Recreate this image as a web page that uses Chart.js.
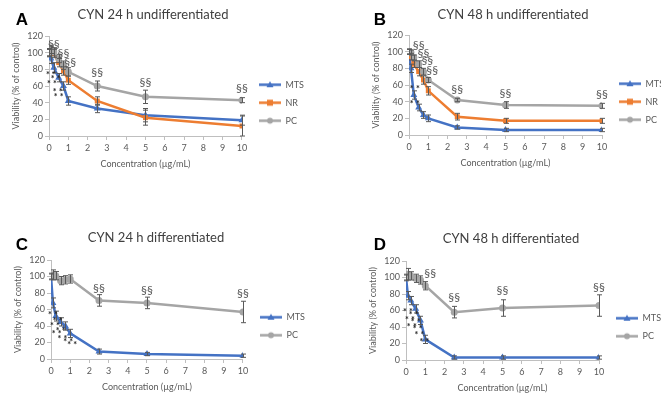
<!DOCTYPE html>
<html>
<head>
<meta charset="utf-8">
<script src="https://cdn.jsdelivr.net/npm/chart.js@4.4.1/dist/chart.umd.min.js"></script>
<style>
  body { margin: 0; background: #fff; width: 661px; height: 399px; overflow: hidden; position: relative; }
  .panel { position: absolute; }
</style>
</head>
<body>
<div class="panel" style="left:0;top:0"><canvas id="chartA" width="330" height="200"></canvas></div>
<div class="panel" style="left:330px;top:0"><canvas id="chartB" width="331" height="200"></canvas></div>
<div class="panel" style="left:0;top:200px"><canvas id="chartC" width="330" height="199"></canvas></div>
<div class="panel" style="left:330px;top:200px"><canvas id="chartD" width="331" height="199"></canvas></div>
<script>
// Concentrações (µg/mL)
const concentrations = [0, 0.1, 0.25, 0.5, 0.75, 1, 2.5, 5, 10];
const seriesNames = ['MTS', 'NR', 'PC'];

// A - CYN 24 h undifferentiated
const mtsA = [100, 93, 82, 70, 60, 42, 33, 25, 19];
const mtsAErr = [5, 6, 6, 5, 5, 5, 5, 8, 6];
const nrA = [100, 103, 99, 88, 78, 67, 42, 22, 12];
const nrAErr = [4, 4, 5, 5, 5, 5, 5, 9, 12];
const pcA = [100, 104, 101, 93, 85, 77, 60, 47, 43];
const pcAErr = [4, 5, 5, 5, 5, 5, 6, 8, 3];

// B - CYN 48 h undifferentiated
const mtsB = [100, 80, 48, 33, 24, 20, 9, 6, 6];
const mtsBErr = [3, 5, 5, 4, 4, 4, 2, 2, 2];
const nrB = [100, 94, 85, 76, 66, 53, 22, 17, 17];
const nrBErr = [3, 4, 4, 5, 5, 5, 4, 3, 3];
const pcB = [100, 99, 93, 85, 76, 66, 42, 36, 35];
const pcBErr = [3, 3, 3, 4, 4, 3, 2, 4, 3];

// C - CYN 24 h differentiated
const mtsC = [100, 68, 52, 45, 40, 31, 9, 6, 4];
const mtsCErr = [3, 6, 6, 5, 5, 5, 3, 2, 2];
const pcC = [100, 102, 101, 95, 96, 97, 71, 68, 57];
const pcCErr = [4, 6, 5, 5, 5, 5, 7, 7, 13];

// D - CYN 48 h differentiated
const mtsD = [100, 78, 72, 62, 48, 25, 3, 3, 3];
const mtsDErr = [3, 5, 5, 5, 5, 5, 2, 2, 2];
const pcD = [100, 104, 102, 99, 97, 90, 58, 63, 66];
const pcDErr = [4, 7, 5, 5, 5, 5, 7, 10, 13];

// marcas de significância (posição em unidades dos eixos)
const sigA = [[0.25, 110], [0.75, 100], [1.1, 89], [2.5, 77], [5, 65], [10, 58]];
const sigB = [[0.5, 108], [0.75, 98], [0.95, 90], [1.2, 78], [2.5, 55], [5, 50], [10, 49]];
const sigC = [[2.5, 86], [5, 84], [10, 80]];
const sigD = [[1.25, 105], [2.5, 76], [5, 85], [10, 88]];
const starsA = [[0.1, 76], [0.35, 71], [0.15, 65], [0.45, 55], [0.5, 49]];
const starsB = [[0.3, 58], [0.3, 40]];
const starsC = [[0.1, 56], [0.35, 48], [0.2, 42], [0.5, 36], [0.3, 33], [0.6, 27], [0.9, 23], [1.1, 19]];
const starsD = [[0.1, 60], [0.4, 57], [0.2, 51], [0.5, 48], [0.3, 42], [0.6, 40], [0.7, 33], [0.95, 24]];

const colors = { MTS: '#4472C4', NR: '#ED7D31', PC: '#A5A5A5' };
const styles = { MTS: 'triangle', NR: 'rect', PC: 'circle' };
const FONT = 'Lato, "Open Sans", sans-serif';

// ícone da legenda: linha com marcador (estilo Excel)
function legendIcon(name) {
  const c = document.createElement('canvas');
  c.width = 30; c.height = 9;
  const g = c.getContext('2d');
  g.strokeStyle = colors[name]; g.fillStyle = colors[name]; g.lineWidth = 2.5;
  g.beginPath(); g.moveTo(8, 4.5); g.lineTo(30, 4.5); g.stroke();
  const cx = 19, cy = 4.5;
  g.beginPath();
  if (name === 'MTS') { g.moveTo(cx, cy - 3.5); g.lineTo(cx + 3.5, cy + 2.5); g.lineTo(cx - 3.5, cy + 2.5); g.closePath(); }
  else if (name === 'NR') { g.rect(cx - 3, cy - 3, 6, 6); }
  else { g.arc(cx, cy, 3, 0, Math.PI * 2); }
  g.fill();
  return c;
}
const icons = { MTS: legendIcon('MTS'), NR: legendIcon('NR'), PC: legendIcon('PC') };

const decorPlugin = {
  id: 'decor',
  afterDatasetsDraw(chart, args, opts) {
    const { ctx, scales: { x, y } } = chart;
    ctx.save();
    // barras de erro
    chart.data.datasets.forEach((ds) => {
      ctx.strokeStyle = '#595959';
      ctx.lineWidth = 1;
      ds.data.forEach((pt, j) => {
        const e = ds.errors[j];
        const px = Math.round(x.getPixelForValue(pt.x)) + 0.5;
        const top = y.getPixelForValue(pt.y + e);
        const bot = y.getPixelForValue(pt.y - e);
        ctx.beginPath();
        ctx.moveTo(px, top); ctx.lineTo(px, bot);
        ctx.moveTo(px - 2.5, top); ctx.lineTo(px + 2.5, top);
        ctx.moveTo(px - 2.5, bot); ctx.lineTo(px + 2.5, bot);
        ctx.stroke();
      });
    });
    ctx.textAlign = 'center';
    ctx.textBaseline = 'middle';
    ctx.font = '12px ' + FONT;
    ctx.fillStyle = '#595959';
    opts.sig.forEach(([vx, vy]) => ctx.fillText('§§', x.getPixelForValue(vx), y.getPixelForValue(vy)));
    ctx.font = 'bold 9px ' + FONT;
    ctx.fillStyle = '#262626';
    opts.stars.forEach(([vx, vy]) => ctx.fillText('* *', x.getPixelForValue(vx), y.getPixelForValue(vy) + 2));
    ctx.restore();
  },
  afterDraw(chart, args, opts) {
    const ctx = chart.ctx;
    ctx.save();
    ctx.textAlign = 'center';
    ctx.textBaseline = 'middle';
    ctx.fillStyle = '#404040';
    ctx.font = '13px ' + FONT;
    ctx.fillText(opts.title, opts.titleX, opts.titleY);
    ctx.fillStyle = '#000';
    ctx.font = 'bold 17px "Liberation Sans", Arial, sans-serif';
    ctx.fillText(opts.letter, opts.letterX, opts.letterY);
    ctx.restore();
  }
};

function makePanel(id, p) {
  const datasets = p.series.map((s, i) => ({
    label: s.name,
    data: concentrations.map((c, j) => ({ x: c, y: s.values[j] })),
    errors: s.errors,
    borderColor: colors[s.name],
    backgroundColor: colors[s.name],
    borderWidth: 2.5,
    pointStyle: styles[s.name],
    pointRadius: s.name === 'MTS' ? 4 : 3.5,
    pointBorderWidth: 0,
    tension: 0,
    order: p.series.length - i
  }));
  const legend = {
    position: 'right',
    labels: {
      usePointStyle: true,
      pointStyleWidth: 30,
      padding: 9,
      color: '#595959',
      font: { family: FONT, size: 9 },
      sort: (a, b) => a.datasetIndex - b.datasetIndex,
      generateLabels: (chart) => Chart.defaults.plugins.legend.labels.generateLabels(chart)
        .map(item => Object.assign(item, { pointStyle: icons[item.text] }))
    }
  };
  if (p.legendWidth) legend.maxWidth = p.legendWidth;
  new Chart(document.getElementById(id), {
    type: 'line',
    data: { datasets },
    plugins: [decorPlugin],
    options: {
      responsive: false,
      animation: false,
      layout: { padding: p.padding },
      scales: {
        x: {
          type: 'linear', min: 0, max: 10,
          afterFit: (axis) => { axis.height = 33.4; },
          border: { color: '#bfbfbf' },
          grid: { drawOnChartArea: false, tickLength: 4, color: '#bfbfbf' },
          ticks: { stepSize: 1, padding: 3, color: '#595959', font: { family: FONT, size: 9 } },
          title: { display: true, text: 'Concentration (µg/mL)', color: '#595959', padding: 0, font: { family: FONT, size: 9 } }
        },
        y: {
          min: 0, max: 120,
          afterFit: (axis) => { axis.width = 38; },
          border: { color: '#bfbfbf' },
          grid: { drawOnChartArea: false, tickLength: 4, color: '#bfbfbf' },
          ticks: { stepSize: 20, padding: 2, color: '#595959', font: { family: FONT, size: 9 } },
          title: { display: true, text: 'Viability (% of control)', color: '#595959', padding: 0, font: { family: FONT, size: 9 } }
        }
      },
      plugins: {
        tooltip: { enabled: false },
        legend,
        decor: p.decor
      }
    }
  });
}

makePanel('chartA', {
  series: [
    { name: 'MTS', values: mtsA, errors: mtsAErr },
    { name: 'NR', values: nrA, errors: nrAErr },
    { name: 'PC', values: pcA, errors: pcAErr }
  ],
  padding: { left: 11, right: 16, top: 36, bottom: 30.6 },
  decor: { title: 'CYN 24 h undifferentiated', titleX: 153, titleY: 15, letter: 'A', letterX: 22, letterY: 20, sig: sigA, stars: starsA }
});

makePanel('chartB', {
  series: [
    { name: 'MTS', values: mtsB, errors: mtsBErr },
    { name: 'NR', values: nrB, errors: nrBErr },
    { name: 'PC', values: pcB, errors: pcBErr }
  ],
  legendWidth: 59,
  padding: { left: 41, right: 0, top: 35, bottom: 31.6 },
  decor: { title: 'CYN 48 h undifferentiated', titleX: 183, titleY: 15, letter: 'B', letterX: 50, letterY: 20, sig: sigB, stars: starsB }
});

makePanel('chartC', {
  series: [
    { name: 'MTS', values: mtsC, errors: mtsCErr },
    { name: 'PC', values: pcC, errors: pcCErr }
  ],
  padding: { left: 13, right: 15, top: 60, bottom: 6.6 },
  decor: { title: 'CYN 24 h differentiated', titleX: 156, titleY: 38, letter: 'C', letterX: 22, letterY: 45, sig: sigC, stars: starsC }
});

makePanel('chartD', {
  series: [
    { name: 'MTS', values: mtsD, errors: mtsDErr },
    { name: 'PC', values: pcD, errors: pcDErr }
  ],
  legendWidth: 62,
  padding: { left: 38, right: 0, top: 61, bottom: 5.6 },
  decor: { title: 'CYN 48 h differentiated', titleX: 181, titleY: 39, letter: 'D', letterX: 50, letterY: 45, sig: sigD, stars: starsD }
});
</script>
</body>
</html>
